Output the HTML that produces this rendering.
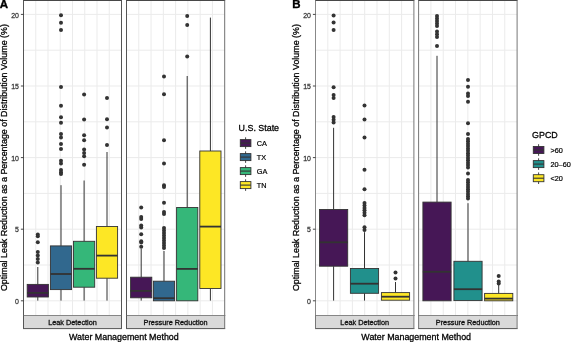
<!DOCTYPE html>
<html><head><meta charset="utf-8"><style>
html,body{margin:0;padding:0;background:#fff;}
svg{display:block;font-family:"Liberation Sans", sans-serif;will-change:transform;}
</style></head><body>
<svg width="575" height="342" viewBox="0 0 575 342">
<rect width="575" height="342" fill="#fff"/>
<rect x="23.5" y="0.5" width="98.0" height="315.0" fill="#fff"/>
<line x1="35.75" y1="0.5" x2="35.75" y2="315.5" stroke="#ebebeb" stroke-width="1"/>
<line x1="48.00" y1="0.5" x2="48.00" y2="315.5" stroke="#ebebeb" stroke-width="1"/>
<line x1="60.25" y1="0.5" x2="60.25" y2="315.5" stroke="#ebebeb" stroke-width="1"/>
<line x1="72.50" y1="0.5" x2="72.50" y2="315.5" stroke="#ebebeb" stroke-width="1"/>
<line x1="84.75" y1="0.5" x2="84.75" y2="315.5" stroke="#ebebeb" stroke-width="1"/>
<line x1="97.00" y1="0.5" x2="97.00" y2="315.5" stroke="#ebebeb" stroke-width="1"/>
<line x1="109.25" y1="0.5" x2="109.25" y2="315.5" stroke="#ebebeb" stroke-width="1"/>
<line x1="23.5" y1="300.80" x2="121.5" y2="300.80" stroke="#ebebeb" stroke-width="1"/>
<line x1="23.5" y1="265.00" x2="121.5" y2="265.00" stroke="#ebebeb" stroke-width="1"/>
<line x1="23.5" y1="229.20" x2="121.5" y2="229.20" stroke="#ebebeb" stroke-width="1"/>
<line x1="23.5" y1="193.40" x2="121.5" y2="193.40" stroke="#ebebeb" stroke-width="1"/>
<line x1="23.5" y1="157.60" x2="121.5" y2="157.60" stroke="#ebebeb" stroke-width="1"/>
<line x1="23.5" y1="121.80" x2="121.5" y2="121.80" stroke="#ebebeb" stroke-width="1"/>
<line x1="23.5" y1="86.00" x2="121.5" y2="86.00" stroke="#ebebeb" stroke-width="1"/>
<line x1="23.5" y1="50.20" x2="121.5" y2="50.20" stroke="#ebebeb" stroke-width="1"/>
<line x1="23.5" y1="14.40" x2="121.5" y2="14.40" stroke="#ebebeb" stroke-width="1"/>
<rect x="126.5" y="0.5" width="98.19999999999999" height="315.0" fill="#fff"/>
<line x1="138.78" y1="0.5" x2="138.78" y2="315.5" stroke="#ebebeb" stroke-width="1"/>
<line x1="151.05" y1="0.5" x2="151.05" y2="315.5" stroke="#ebebeb" stroke-width="1"/>
<line x1="163.32" y1="0.5" x2="163.32" y2="315.5" stroke="#ebebeb" stroke-width="1"/>
<line x1="175.60" y1="0.5" x2="175.60" y2="315.5" stroke="#ebebeb" stroke-width="1"/>
<line x1="187.88" y1="0.5" x2="187.88" y2="315.5" stroke="#ebebeb" stroke-width="1"/>
<line x1="200.15" y1="0.5" x2="200.15" y2="315.5" stroke="#ebebeb" stroke-width="1"/>
<line x1="212.42" y1="0.5" x2="212.42" y2="315.5" stroke="#ebebeb" stroke-width="1"/>
<line x1="126.5" y1="300.80" x2="224.7" y2="300.80" stroke="#ebebeb" stroke-width="1"/>
<line x1="126.5" y1="265.00" x2="224.7" y2="265.00" stroke="#ebebeb" stroke-width="1"/>
<line x1="126.5" y1="229.20" x2="224.7" y2="229.20" stroke="#ebebeb" stroke-width="1"/>
<line x1="126.5" y1="193.40" x2="224.7" y2="193.40" stroke="#ebebeb" stroke-width="1"/>
<line x1="126.5" y1="157.60" x2="224.7" y2="157.60" stroke="#ebebeb" stroke-width="1"/>
<line x1="126.5" y1="121.80" x2="224.7" y2="121.80" stroke="#ebebeb" stroke-width="1"/>
<line x1="126.5" y1="86.00" x2="224.7" y2="86.00" stroke="#ebebeb" stroke-width="1"/>
<line x1="126.5" y1="50.20" x2="224.7" y2="50.20" stroke="#ebebeb" stroke-width="1"/>
<line x1="126.5" y1="14.40" x2="224.7" y2="14.40" stroke="#ebebeb" stroke-width="1"/>
<line x1="37.8" y1="267.0" x2="37.8" y2="284.4" stroke="#333333" stroke-width="1.0"/>
<line x1="37.8" y1="297.0" x2="37.8" y2="300.6" stroke="#333333" stroke-width="1.0"/>
<rect x="27.20" y="284.4" width="21.2" height="12.60" fill="#461756" stroke="#333333" stroke-width="0.9"/>
<line x1="27.20" y1="292.9" x2="48.40" y2="292.9" stroke="#333333" stroke-width="1.8"/>
<circle cx="37.8" cy="234.5" r="2.0" fill="#333333"/>
<circle cx="37.8" cy="236.3" r="2.0" fill="#333333"/>
<circle cx="37.8" cy="242.2" r="2.0" fill="#333333"/>
<circle cx="37.8" cy="252.0" r="2.0" fill="#333333"/>
<circle cx="37.8" cy="255.5" r="2.0" fill="#333333"/>
<circle cx="37.8" cy="259.0" r="2.0" fill="#333333"/>
<circle cx="37.8" cy="262.5" r="2.0" fill="#333333"/>
<line x1="61.0" y1="185.2" x2="61.0" y2="245.9" stroke="#333333" stroke-width="1.0"/>
<line x1="61.0" y1="289.6" x2="61.0" y2="300.6" stroke="#333333" stroke-width="1.0"/>
<rect x="50.40" y="245.9" width="21.2" height="43.70" fill="#31688E" stroke="#333333" stroke-width="0.9"/>
<line x1="50.40" y1="274.0" x2="71.60" y2="274.0" stroke="#333333" stroke-width="1.8"/>
<circle cx="61.0" cy="15.2" r="2.0" fill="#333333"/>
<circle cx="61.0" cy="22.7" r="2.0" fill="#333333"/>
<circle cx="61.0" cy="30.0" r="2.0" fill="#333333"/>
<circle cx="61.0" cy="87.1" r="2.0" fill="#333333"/>
<circle cx="61.0" cy="105.7" r="2.0" fill="#333333"/>
<circle cx="61.0" cy="117.2" r="2.0" fill="#333333"/>
<circle cx="61.0" cy="122.8" r="2.0" fill="#333333"/>
<circle cx="61.0" cy="134.1" r="2.0" fill="#333333"/>
<circle cx="61.0" cy="137.6" r="2.0" fill="#333333"/>
<circle cx="61.0" cy="143.9" r="2.0" fill="#333333"/>
<circle cx="61.0" cy="149.1" r="2.0" fill="#333333"/>
<circle cx="61.0" cy="160.8" r="2.0" fill="#333333"/>
<circle cx="61.0" cy="163.6" r="2.0" fill="#333333"/>
<circle cx="61.0" cy="169.9" r="2.0" fill="#333333"/>
<circle cx="61.0" cy="172.2" r="2.0" fill="#333333"/>
<circle cx="61.0" cy="174.0" r="2.0" fill="#333333"/>
<line x1="84.1" y1="180.5" x2="84.1" y2="241.3" stroke="#333333" stroke-width="1.0"/>
<line x1="84.1" y1="287.2" x2="84.1" y2="300.6" stroke="#333333" stroke-width="1.0"/>
<rect x="73.50" y="241.3" width="21.2" height="45.90" fill="#35B779" stroke="#333333" stroke-width="0.9"/>
<line x1="73.50" y1="268.8" x2="94.70" y2="268.8" stroke="#333333" stroke-width="1.8"/>
<circle cx="84.1" cy="94.5" r="2.0" fill="#333333"/>
<circle cx="84.1" cy="119.6" r="2.0" fill="#333333"/>
<circle cx="84.1" cy="135.2" r="2.0" fill="#333333"/>
<circle cx="84.1" cy="140.2" r="2.0" fill="#333333"/>
<circle cx="84.1" cy="149.6" r="2.0" fill="#333333"/>
<circle cx="84.1" cy="153.1" r="2.0" fill="#333333"/>
<circle cx="84.1" cy="156.2" r="2.0" fill="#333333"/>
<circle cx="84.1" cy="164.7" r="2.0" fill="#333333"/>
<line x1="107.0" y1="152.0" x2="107.0" y2="226.5" stroke="#333333" stroke-width="1.0"/>
<line x1="107.0" y1="278.2" x2="107.0" y2="300.6" stroke="#333333" stroke-width="1.0"/>
<rect x="96.40" y="226.5" width="21.2" height="51.70" fill="#FDE725" stroke="#333333" stroke-width="0.9"/>
<line x1="96.40" y1="255.6" x2="117.60" y2="255.6" stroke="#333333" stroke-width="1.8"/>
<circle cx="107.0" cy="98.0" r="2.0" fill="#333333"/>
<circle cx="107.0" cy="119.3" r="2.0" fill="#333333"/>
<circle cx="107.0" cy="127.6" r="2.0" fill="#333333"/>
<circle cx="107.0" cy="145.1" r="2.0" fill="#333333"/>
<line x1="141.2" y1="248.8" x2="141.2" y2="277.2" stroke="#333333" stroke-width="1.0"/>
<line x1="141.2" y1="297.8" x2="141.2" y2="300.6" stroke="#333333" stroke-width="1.0"/>
<rect x="130.60" y="277.2" width="21.2" height="20.60" fill="#461756" stroke="#333333" stroke-width="0.9"/>
<line x1="130.60" y1="290.9" x2="151.80" y2="290.9" stroke="#333333" stroke-width="1.8"/>
<circle cx="141.2" cy="207.6" r="2.0" fill="#333333"/>
<circle cx="141.2" cy="217.0" r="2.0" fill="#333333"/>
<circle cx="141.2" cy="219.0" r="2.0" fill="#333333"/>
<circle cx="141.2" cy="225.5" r="2.0" fill="#333333"/>
<circle cx="141.2" cy="227.5" r="2.0" fill="#333333"/>
<circle cx="141.2" cy="234.2" r="2.0" fill="#333333"/>
<circle cx="141.2" cy="241.2" r="2.0" fill="#333333"/>
<circle cx="141.2" cy="242.6" r="2.0" fill="#333333"/>
<circle cx="141.2" cy="246.7" r="2.0" fill="#333333"/>
<line x1="164.0" y1="251.0" x2="164.0" y2="281.2" stroke="#333333" stroke-width="1.0"/>
<rect x="153.40" y="281.2" width="21.2" height="19.60" fill="#31688E" stroke="#333333" stroke-width="0.9"/>
<line x1="153.40" y1="298.2" x2="174.60" y2="298.2" stroke="#333333" stroke-width="1.8"/>
<circle cx="164.0" cy="76.5" r="2.0" fill="#333333"/>
<circle cx="164.0" cy="94.2" r="2.0" fill="#333333"/>
<circle cx="164.0" cy="140.2" r="2.0" fill="#333333"/>
<circle cx="164.0" cy="163.6" r="2.0" fill="#333333"/>
<circle cx="164.0" cy="185.2" r="2.0" fill="#333333"/>
<circle cx="164.0" cy="187.0" r="2.0" fill="#333333"/>
<circle cx="164.0" cy="202.8" r="2.0" fill="#333333"/>
<circle cx="164.0" cy="212.0" r="2.0" fill="#333333"/>
<circle cx="164.0" cy="214.0" r="2.0" fill="#333333"/>
<circle cx="164.0" cy="228.0" r="2.0" fill="#333333"/>
<circle cx="164.0" cy="230.5" r="2.0" fill="#333333"/>
<circle cx="164.0" cy="233.0" r="2.0" fill="#333333"/>
<circle cx="164.0" cy="235.5" r="2.0" fill="#333333"/>
<circle cx="164.0" cy="238.0" r="2.0" fill="#333333"/>
<circle cx="164.0" cy="240.5" r="2.0" fill="#333333"/>
<circle cx="164.0" cy="243.0" r="2.0" fill="#333333"/>
<circle cx="164.0" cy="245.5" r="2.0" fill="#333333"/>
<circle cx="164.0" cy="248.0" r="2.0" fill="#333333"/>
<line x1="187.2" y1="76.0" x2="187.2" y2="207.5" stroke="#333333" stroke-width="1.0"/>
<rect x="176.60" y="207.5" width="21.2" height="93.30" fill="#35B779" stroke="#333333" stroke-width="0.9"/>
<line x1="176.60" y1="268.9" x2="197.80" y2="268.9" stroke="#333333" stroke-width="1.8"/>
<circle cx="187.2" cy="16.1" r="2.0" fill="#333333"/>
<circle cx="187.2" cy="24.9" r="2.0" fill="#333333"/>
<circle cx="187.2" cy="56.6" r="2.0" fill="#333333"/>
<line x1="210.4" y1="17.6" x2="210.4" y2="151.0" stroke="#333333" stroke-width="1.0"/>
<line x1="210.4" y1="288.5" x2="210.4" y2="300.6" stroke="#333333" stroke-width="1.0"/>
<rect x="199.80" y="151.0" width="21.2" height="137.50" fill="#FDE725" stroke="#333333" stroke-width="0.9"/>
<line x1="199.80" y1="226.6" x2="221.00" y2="226.6" stroke="#333333" stroke-width="1.8"/>
<line x1="23.0" y1="0.5" x2="122.0" y2="0.5" stroke="#484848" stroke-width="1"/>
<line x1="23.0" y1="315.5" x2="122.0" y2="315.5" stroke="#333" stroke-width="1"/>
<line x1="23.5" y1="0.5" x2="23.5" y2="315.5" stroke="#555" stroke-width="1"/>
<line x1="121.5" y1="0.5" x2="121.5" y2="315.5" stroke="#555" stroke-width="1"/>
<line x1="126.0" y1="0.5" x2="225.2" y2="0.5" stroke="#484848" stroke-width="1"/>
<line x1="126.0" y1="315.5" x2="225.2" y2="315.5" stroke="#333" stroke-width="1"/>
<line x1="126.5" y1="0.5" x2="126.5" y2="315.5" stroke="#555" stroke-width="1"/>
<line x1="224.7" y1="0.5" x2="224.7" y2="315.5" stroke="#707070" stroke-width="1"/>
<rect x="23.5" y="315.5" width="98.0" height="13.100000000000023" fill="#d9d9d9"/>
<line x1="23.0" y1="328.6" x2="122.0" y2="328.6" stroke="#555" stroke-width="1"/>
<line x1="23.5" y1="315.5" x2="23.5" y2="328.6" stroke="#555" stroke-width="1"/>
<line x1="121.5" y1="315.5" x2="121.5" y2="328.6" stroke="#555" stroke-width="1"/>
<text x="72.50" y="324.9" font-size="7.3" fill="#111" stroke="#111" stroke-width="0.3" text-anchor="middle">Leak Detection</text>
<rect x="126.5" y="315.5" width="98.19999999999999" height="13.100000000000023" fill="#d9d9d9"/>
<line x1="126.0" y1="328.6" x2="225.2" y2="328.6" stroke="#555" stroke-width="1"/>
<line x1="126.5" y1="315.5" x2="126.5" y2="328.6" stroke="#555" stroke-width="1"/>
<line x1="224.7" y1="315.5" x2="224.7" y2="328.6" stroke="#707070" stroke-width="1"/>
<text x="175.60" y="324.9" font-size="7.3" fill="#111" stroke="#111" stroke-width="0.3" text-anchor="middle">Pressure Reduction</text>
<line x1="20.9" y1="300.80" x2="23.5" y2="300.80" stroke="#333333" stroke-width="0.9"/>
<text transform="translate(19.00,303.90) scale(0.86,1)" font-size="8.1" fill="#3a3a3a" stroke="#3a3a3a" stroke-width="0.3" text-anchor="end">0</text>
<line x1="20.9" y1="229.20" x2="23.5" y2="229.20" stroke="#333333" stroke-width="0.9"/>
<text transform="translate(19.00,232.30) scale(0.86,1)" font-size="8.1" fill="#3a3a3a" stroke="#3a3a3a" stroke-width="0.3" text-anchor="end">5</text>
<line x1="20.9" y1="157.60" x2="23.5" y2="157.60" stroke="#333333" stroke-width="0.9"/>
<text transform="translate(19.00,160.70) scale(0.86,1)" font-size="8.1" fill="#3a3a3a" stroke="#3a3a3a" stroke-width="0.3" text-anchor="end">10</text>
<line x1="20.9" y1="86.00" x2="23.5" y2="86.00" stroke="#333333" stroke-width="0.9"/>
<text transform="translate(19.00,89.10) scale(0.86,1)" font-size="8.1" fill="#3a3a3a" stroke="#3a3a3a" stroke-width="0.3" text-anchor="end">15</text>
<line x1="20.9" y1="14.40" x2="23.5" y2="14.40" stroke="#333333" stroke-width="0.9"/>
<text transform="translate(19.00,17.50) scale(0.86,1)" font-size="8.1" fill="#3a3a3a" stroke="#3a3a3a" stroke-width="0.3" text-anchor="end">20</text>
<text x="123.9" y="339.7" font-size="8.9" fill="#000" stroke="#000" stroke-width="0.28" text-anchor="middle">Water Management Method</text>
<text transform="translate(7.0,157.6) rotate(-90)" font-size="8.9" fill="#000" stroke="#000" stroke-width="0.28" text-anchor="middle">Optimal Leak Reduction as a Percentage of Distribution Volume (%)</text>
<text x="-0.3" y="7.8" font-size="11.5" font-weight="bold" fill="#000" stroke="#000" stroke-width="0.35">A</text>
<text x="238.6" y="130.9" font-size="8.9" fill="#000" stroke="#000" stroke-width="0.28">U.S. State</text>
<line x1="245.6" y1="137.29999999999998" x2="245.6" y2="148.9" stroke="#333333" stroke-width="0.9"/>
<rect x="240.29999999999998" y="139.6" width="10.6" height="7.0" fill="#461756" stroke="#333333" stroke-width="0.9"/>
<line x1="240.29999999999998" y1="143.1" x2="250.9" y2="143.1" stroke="#333333" stroke-width="1.1"/>
<text x="256.8" y="145.75" font-size="7.3" fill="#000" stroke="#000" stroke-width="0.2">CA</text>
<line x1="245.6" y1="151.29999999999998" x2="245.6" y2="162.9" stroke="#333333" stroke-width="0.9"/>
<rect x="240.29999999999998" y="153.6" width="10.6" height="7.0" fill="#31688E" stroke="#333333" stroke-width="0.9"/>
<line x1="240.29999999999998" y1="157.1" x2="250.9" y2="157.1" stroke="#333333" stroke-width="1.1"/>
<text x="256.8" y="159.75" font-size="7.3" fill="#000" stroke="#000" stroke-width="0.2">TX</text>
<line x1="245.6" y1="165.29999999999998" x2="245.6" y2="176.9" stroke="#333333" stroke-width="0.9"/>
<rect x="240.29999999999998" y="167.6" width="10.6" height="7.0" fill="#35B779" stroke="#333333" stroke-width="0.9"/>
<line x1="240.29999999999998" y1="171.1" x2="250.9" y2="171.1" stroke="#333333" stroke-width="1.1"/>
<text x="256.8" y="173.75" font-size="7.3" fill="#000" stroke="#000" stroke-width="0.2">GA</text>
<line x1="245.6" y1="179.29999999999998" x2="245.6" y2="190.9" stroke="#333333" stroke-width="0.9"/>
<rect x="240.29999999999998" y="181.6" width="10.6" height="7.0" fill="#FDE725" stroke="#333333" stroke-width="0.9"/>
<line x1="240.29999999999998" y1="185.1" x2="250.9" y2="185.1" stroke="#333333" stroke-width="1.1"/>
<text x="256.8" y="187.75" font-size="7.3" fill="#000" stroke="#000" stroke-width="0.2">TN</text>
<rect x="315.5" y="0.5" width="98.39999999999998" height="315.0" fill="#fff"/>
<line x1="327.80" y1="0.5" x2="327.80" y2="315.5" stroke="#ebebeb" stroke-width="1"/>
<line x1="340.10" y1="0.5" x2="340.10" y2="315.5" stroke="#ebebeb" stroke-width="1"/>
<line x1="352.40" y1="0.5" x2="352.40" y2="315.5" stroke="#ebebeb" stroke-width="1"/>
<line x1="364.70" y1="0.5" x2="364.70" y2="315.5" stroke="#ebebeb" stroke-width="1"/>
<line x1="377.00" y1="0.5" x2="377.00" y2="315.5" stroke="#ebebeb" stroke-width="1"/>
<line x1="389.30" y1="0.5" x2="389.30" y2="315.5" stroke="#ebebeb" stroke-width="1"/>
<line x1="401.60" y1="0.5" x2="401.60" y2="315.5" stroke="#ebebeb" stroke-width="1"/>
<line x1="315.5" y1="300.80" x2="413.9" y2="300.80" stroke="#ebebeb" stroke-width="1"/>
<line x1="315.5" y1="265.00" x2="413.9" y2="265.00" stroke="#ebebeb" stroke-width="1"/>
<line x1="315.5" y1="229.20" x2="413.9" y2="229.20" stroke="#ebebeb" stroke-width="1"/>
<line x1="315.5" y1="193.40" x2="413.9" y2="193.40" stroke="#ebebeb" stroke-width="1"/>
<line x1="315.5" y1="157.60" x2="413.9" y2="157.60" stroke="#ebebeb" stroke-width="1"/>
<line x1="315.5" y1="121.80" x2="413.9" y2="121.80" stroke="#ebebeb" stroke-width="1"/>
<line x1="315.5" y1="86.00" x2="413.9" y2="86.00" stroke="#ebebeb" stroke-width="1"/>
<line x1="315.5" y1="50.20" x2="413.9" y2="50.20" stroke="#ebebeb" stroke-width="1"/>
<line x1="315.5" y1="14.40" x2="413.9" y2="14.40" stroke="#ebebeb" stroke-width="1"/>
<rect x="418.6" y="0.5" width="98.5" height="315.0" fill="#fff"/>
<line x1="430.91" y1="0.5" x2="430.91" y2="315.5" stroke="#ebebeb" stroke-width="1"/>
<line x1="443.23" y1="0.5" x2="443.23" y2="315.5" stroke="#ebebeb" stroke-width="1"/>
<line x1="455.54" y1="0.5" x2="455.54" y2="315.5" stroke="#ebebeb" stroke-width="1"/>
<line x1="467.85" y1="0.5" x2="467.85" y2="315.5" stroke="#ebebeb" stroke-width="1"/>
<line x1="480.16" y1="0.5" x2="480.16" y2="315.5" stroke="#ebebeb" stroke-width="1"/>
<line x1="492.48" y1="0.5" x2="492.48" y2="315.5" stroke="#ebebeb" stroke-width="1"/>
<line x1="504.79" y1="0.5" x2="504.79" y2="315.5" stroke="#ebebeb" stroke-width="1"/>
<line x1="418.6" y1="300.80" x2="517.1" y2="300.80" stroke="#ebebeb" stroke-width="1"/>
<line x1="418.6" y1="265.00" x2="517.1" y2="265.00" stroke="#ebebeb" stroke-width="1"/>
<line x1="418.6" y1="229.20" x2="517.1" y2="229.20" stroke="#ebebeb" stroke-width="1"/>
<line x1="418.6" y1="193.40" x2="517.1" y2="193.40" stroke="#ebebeb" stroke-width="1"/>
<line x1="418.6" y1="157.60" x2="517.1" y2="157.60" stroke="#ebebeb" stroke-width="1"/>
<line x1="418.6" y1="121.80" x2="517.1" y2="121.80" stroke="#ebebeb" stroke-width="1"/>
<line x1="418.6" y1="86.00" x2="517.1" y2="86.00" stroke="#ebebeb" stroke-width="1"/>
<line x1="418.6" y1="50.20" x2="517.1" y2="50.20" stroke="#ebebeb" stroke-width="1"/>
<line x1="418.6" y1="14.40" x2="517.1" y2="14.40" stroke="#ebebeb" stroke-width="1"/>
<line x1="333.6" y1="127.8" x2="333.6" y2="209.5" stroke="#333333" stroke-width="1.0"/>
<line x1="333.6" y1="266.2" x2="333.6" y2="300.6" stroke="#333333" stroke-width="1.0"/>
<rect x="319.50" y="209.5" width="28.2" height="56.70" fill="#461756" stroke="#333333" stroke-width="0.9"/>
<line x1="319.50" y1="242.3" x2="347.70" y2="242.3" stroke="#333333" stroke-width="1.8"/>
<circle cx="333.6" cy="15.5" r="2.0" fill="#333333"/>
<circle cx="333.6" cy="22.6" r="2.0" fill="#333333"/>
<circle cx="333.6" cy="30.0" r="2.0" fill="#333333"/>
<circle cx="333.6" cy="87.2" r="2.0" fill="#333333"/>
<circle cx="333.6" cy="95.0" r="2.0" fill="#333333"/>
<circle cx="333.6" cy="98.0" r="2.0" fill="#333333"/>
<circle cx="333.6" cy="117.0" r="2.0" fill="#333333"/>
<circle cx="333.6" cy="119.8" r="2.0" fill="#333333"/>
<circle cx="333.6" cy="122.5" r="2.0" fill="#333333"/>
<line x1="364.5" y1="232.2" x2="364.5" y2="268.5" stroke="#333333" stroke-width="1.0"/>
<line x1="364.5" y1="293.3" x2="364.5" y2="300.6" stroke="#333333" stroke-width="1.0"/>
<rect x="350.40" y="268.5" width="28.2" height="24.80" fill="#21908C" stroke="#333333" stroke-width="0.9"/>
<line x1="350.40" y1="283.7" x2="378.60" y2="283.7" stroke="#333333" stroke-width="1.8"/>
<circle cx="364.5" cy="105.6" r="2.0" fill="#333333"/>
<circle cx="364.5" cy="119.4" r="2.0" fill="#333333"/>
<circle cx="364.5" cy="137.6" r="2.0" fill="#333333"/>
<circle cx="364.5" cy="169.8" r="2.0" fill="#333333"/>
<circle cx="364.5" cy="189.2" r="2.0" fill="#333333"/>
<circle cx="364.5" cy="203.0" r="2.0" fill="#333333"/>
<circle cx="364.5" cy="205.44" r="2.0" fill="#333333"/>
<circle cx="364.5" cy="207.88" r="2.0" fill="#333333"/>
<circle cx="364.5" cy="210.32" r="2.0" fill="#333333"/>
<circle cx="364.5" cy="212.76" r="2.0" fill="#333333"/>
<circle cx="364.5" cy="215.2" r="2.0" fill="#333333"/>
<circle cx="364.5" cy="227.2" r="2.0" fill="#333333"/>
<circle cx="364.5" cy="229.9" r="2.0" fill="#333333"/>
<line x1="395.5" y1="282.0" x2="395.5" y2="292.6" stroke="#333333" stroke-width="1.0"/>
<rect x="381.40" y="292.6" width="28.2" height="7.60" fill="#FDE725" stroke="#333333" stroke-width="0.9"/>
<line x1="381.40" y1="296.7" x2="409.60" y2="296.7" stroke="#333333" stroke-width="1.8"/>
<circle cx="395.5" cy="272.6" r="2.0" fill="#333333"/>
<circle cx="395.5" cy="278.6" r="2.0" fill="#333333"/>
<line x1="437.0" y1="55.8" x2="437.0" y2="202.1" stroke="#333333" stroke-width="1.0"/>
<rect x="422.90" y="202.1" width="28.2" height="98.70" fill="#461756" stroke="#333333" stroke-width="0.9"/>
<line x1="422.90" y1="271.8" x2="451.10" y2="271.8" stroke="#333333" stroke-width="1.8"/>
<circle cx="437.0" cy="16.0" r="2.0" fill="#333333"/>
<circle cx="437.0" cy="18.5" r="2.0" fill="#333333"/>
<circle cx="437.0" cy="21.0" r="2.0" fill="#333333"/>
<circle cx="437.0" cy="23.5" r="2.0" fill="#333333"/>
<circle cx="437.0" cy="26.0" r="2.0" fill="#333333"/>
<circle cx="437.0" cy="31.5" r="2.0" fill="#333333"/>
<circle cx="437.0" cy="34.25" r="2.0" fill="#333333"/>
<circle cx="437.0" cy="37.0" r="2.0" fill="#333333"/>
<circle cx="437.0" cy="46.1" r="2.0" fill="#333333"/>
<line x1="468.0" y1="203.2" x2="468.0" y2="261.3" stroke="#333333" stroke-width="1.0"/>
<rect x="453.90" y="261.3" width="28.2" height="39.30" fill="#21908C" stroke="#333333" stroke-width="0.9"/>
<line x1="453.90" y1="289.2" x2="482.10" y2="289.2" stroke="#333333" stroke-width="1.8"/>
<circle cx="468.0" cy="80.0" r="2.0" fill="#333333"/>
<circle cx="468.0" cy="86.8" r="2.0" fill="#333333"/>
<circle cx="468.0" cy="93.5" r="2.0" fill="#333333"/>
<circle cx="468.0" cy="95.9" r="2.0" fill="#333333"/>
<circle cx="468.0" cy="101.7" r="2.0" fill="#333333"/>
<circle cx="468.0" cy="123.2" r="2.0" fill="#333333"/>
<circle cx="468.0" cy="134.1" r="2.0" fill="#333333"/>
<circle cx="468.0" cy="139.0" r="2.0" fill="#333333"/>
<circle cx="468.0" cy="141.36666666666667" r="2.0" fill="#333333"/>
<circle cx="468.0" cy="143.73333333333335" r="2.0" fill="#333333"/>
<circle cx="468.0" cy="146.1" r="2.0" fill="#333333"/>
<circle cx="468.0" cy="148.46666666666667" r="2.0" fill="#333333"/>
<circle cx="468.0" cy="150.83333333333334" r="2.0" fill="#333333"/>
<circle cx="468.0" cy="153.2" r="2.0" fill="#333333"/>
<circle cx="468.0" cy="155.56666666666666" r="2.0" fill="#333333"/>
<circle cx="468.0" cy="157.93333333333334" r="2.0" fill="#333333"/>
<circle cx="468.0" cy="160.3" r="2.0" fill="#333333"/>
<circle cx="468.0" cy="162.66666666666669" r="2.0" fill="#333333"/>
<circle cx="468.0" cy="165.03333333333333" r="2.0" fill="#333333"/>
<circle cx="468.0" cy="167.4" r="2.0" fill="#333333"/>
<circle cx="468.0" cy="173.6" r="2.0" fill="#333333"/>
<circle cx="468.0" cy="180.0" r="2.0" fill="#333333"/>
<circle cx="468.0" cy="182.3125" r="2.0" fill="#333333"/>
<circle cx="468.0" cy="184.625" r="2.0" fill="#333333"/>
<circle cx="468.0" cy="186.9375" r="2.0" fill="#333333"/>
<circle cx="468.0" cy="189.25" r="2.0" fill="#333333"/>
<circle cx="468.0" cy="191.5625" r="2.0" fill="#333333"/>
<circle cx="468.0" cy="193.875" r="2.0" fill="#333333"/>
<circle cx="468.0" cy="196.1875" r="2.0" fill="#333333"/>
<circle cx="468.0" cy="198.5" r="2.0" fill="#333333"/>
<line x1="498.7" y1="285.0" x2="498.7" y2="293.4" stroke="#333333" stroke-width="1.0"/>
<rect x="484.60" y="293.4" width="28.2" height="7.40" fill="#FDE725" stroke="#333333" stroke-width="0.9"/>
<line x1="484.60" y1="298.6" x2="512.80" y2="298.6" stroke="#333333" stroke-width="1.8"/>
<circle cx="498.7" cy="276.0" r="2.0" fill="#333333"/>
<circle cx="498.7" cy="281.5" r="2.0" fill="#333333"/>
<circle cx="498.7" cy="283.5" r="2.0" fill="#333333"/>
<line x1="315.0" y1="0.5" x2="414.4" y2="0.5" stroke="#484848" stroke-width="1"/>
<line x1="315.0" y1="315.5" x2="414.4" y2="315.5" stroke="#333" stroke-width="1"/>
<line x1="315.5" y1="0.5" x2="315.5" y2="315.5" stroke="#888" stroke-width="1"/>
<line x1="413.9" y1="0.5" x2="413.9" y2="315.5" stroke="#777" stroke-width="1"/>
<line x1="418.1" y1="0.5" x2="517.6" y2="0.5" stroke="#484848" stroke-width="1"/>
<line x1="418.1" y1="315.5" x2="517.6" y2="315.5" stroke="#333" stroke-width="1"/>
<line x1="418.6" y1="0.5" x2="418.6" y2="315.5" stroke="#777" stroke-width="1"/>
<line x1="517.1" y1="0.5" x2="517.1" y2="315.5" stroke="#777" stroke-width="1"/>
<rect x="315.5" y="315.5" width="98.39999999999998" height="13.100000000000023" fill="#d9d9d9"/>
<line x1="315.0" y1="328.6" x2="414.4" y2="328.6" stroke="#555" stroke-width="1"/>
<line x1="315.5" y1="315.5" x2="315.5" y2="328.6" stroke="#777" stroke-width="1"/>
<line x1="413.9" y1="315.5" x2="413.9" y2="328.6" stroke="#777" stroke-width="1"/>
<text x="364.70" y="324.9" font-size="7.3" fill="#111" stroke="#111" stroke-width="0.3" text-anchor="middle">Leak Detection</text>
<rect x="418.6" y="315.5" width="98.5" height="13.100000000000023" fill="#d9d9d9"/>
<line x1="418.1" y1="328.6" x2="517.6" y2="328.6" stroke="#555" stroke-width="1"/>
<line x1="418.6" y1="315.5" x2="418.6" y2="328.6" stroke="#777" stroke-width="1"/>
<line x1="517.1" y1="315.5" x2="517.1" y2="328.6" stroke="#777" stroke-width="1"/>
<text x="467.85" y="324.9" font-size="7.3" fill="#111" stroke="#111" stroke-width="0.3" text-anchor="middle">Pressure Reduction</text>
<line x1="312.9" y1="300.80" x2="315.5" y2="300.80" stroke="#333333" stroke-width="0.9"/>
<text transform="translate(311.00,303.90) scale(0.86,1)" font-size="8.1" fill="#3a3a3a" stroke="#3a3a3a" stroke-width="0.3" text-anchor="end">0</text>
<line x1="312.9" y1="229.20" x2="315.5" y2="229.20" stroke="#333333" stroke-width="0.9"/>
<text transform="translate(311.00,232.30) scale(0.86,1)" font-size="8.1" fill="#3a3a3a" stroke="#3a3a3a" stroke-width="0.3" text-anchor="end">5</text>
<line x1="312.9" y1="157.60" x2="315.5" y2="157.60" stroke="#333333" stroke-width="0.9"/>
<text transform="translate(311.00,160.70) scale(0.86,1)" font-size="8.1" fill="#3a3a3a" stroke="#3a3a3a" stroke-width="0.3" text-anchor="end">10</text>
<line x1="312.9" y1="86.00" x2="315.5" y2="86.00" stroke="#333333" stroke-width="0.9"/>
<text transform="translate(311.00,89.10) scale(0.86,1)" font-size="8.1" fill="#3a3a3a" stroke="#3a3a3a" stroke-width="0.3" text-anchor="end">15</text>
<line x1="312.9" y1="14.40" x2="315.5" y2="14.40" stroke="#333333" stroke-width="0.9"/>
<text transform="translate(311.00,17.50) scale(0.86,1)" font-size="8.1" fill="#3a3a3a" stroke="#3a3a3a" stroke-width="0.3" text-anchor="end">20</text>
<text x="416.2" y="339.7" font-size="8.9" fill="#000" stroke="#000" stroke-width="0.28" text-anchor="middle">Water Management Method</text>
<text transform="translate(299.0,157.6) rotate(-90)" font-size="8.9" fill="#000" stroke="#000" stroke-width="0.28" text-anchor="middle">Optimal Leak Reduction as a Percentage of Distribution Volume (%)</text>
<text x="292.2" y="7.8" font-size="11.5" font-weight="bold" fill="#000" stroke="#000" stroke-width="0.35">B</text>
<text x="532.1" y="137.6" font-size="8.9" fill="#000" stroke="#000" stroke-width="0.28">GPCD</text>
<line x1="538.6" y1="144.2" x2="538.6" y2="155.8" stroke="#333333" stroke-width="0.9"/>
<rect x="533.3000000000001" y="146.5" width="10.6" height="7.0" fill="#461756" stroke="#333333" stroke-width="0.9"/>
<line x1="533.3000000000001" y1="150.0" x2="543.9" y2="150.0" stroke="#333333" stroke-width="1.1"/>
<text x="550.5" y="152.65" font-size="7.3" fill="#000" stroke="#000" stroke-width="0.2">&gt;60</text>
<line x1="538.6" y1="158.29999999999998" x2="538.6" y2="169.9" stroke="#333333" stroke-width="0.9"/>
<rect x="533.3000000000001" y="160.6" width="10.6" height="7.0" fill="#21908C" stroke="#333333" stroke-width="0.9"/>
<line x1="533.3000000000001" y1="164.1" x2="543.9" y2="164.1" stroke="#333333" stroke-width="1.1"/>
<text x="550.5" y="166.75" font-size="7.3" fill="#000" stroke="#000" stroke-width="0.2">20–60</text>
<line x1="538.6" y1="172.39999999999998" x2="538.6" y2="184.0" stroke="#333333" stroke-width="0.9"/>
<rect x="533.3000000000001" y="174.7" width="10.6" height="7.0" fill="#FDE725" stroke="#333333" stroke-width="0.9"/>
<line x1="533.3000000000001" y1="178.2" x2="543.9" y2="178.2" stroke="#333333" stroke-width="1.1"/>
<text x="550.5" y="180.85" font-size="7.3" fill="#000" stroke="#000" stroke-width="0.2">&lt;20</text>
</svg>
</body></html>
